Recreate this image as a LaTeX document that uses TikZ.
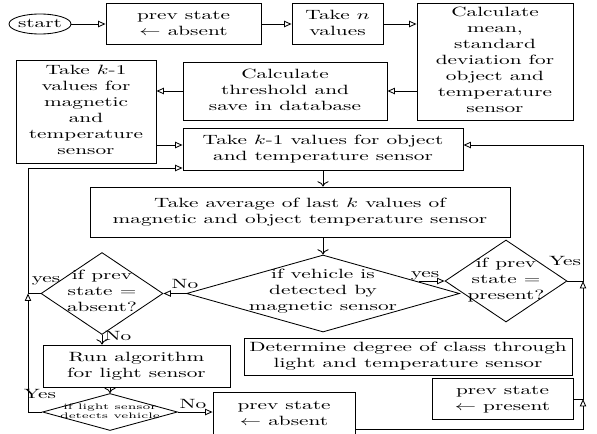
\documentclass[tikz,border=0pt]{standalone}
\usepackage{graphicx}
\usetikzlibrary{shapes.geometric,arrows.meta,calc}
\newcommand{\sqt}[1]{\scalebox{1}[0.63]{\begin{tabular}{@{}c@{}}#1\end{tabular}}}
\begin{document}
\begin{tikzpicture}[x=0.47pt,y=-0.47pt,
  box/.style 2 args={draw, rectangle, inner sep=0pt, minimum width=#1*0.47pt, minimum height=#2*0.47pt},
  dia/.style 2 args={draw, diamond, inner sep=0pt, minimum width=#1*0.47pt, minimum height=#2*0.47pt},
  ell/.style 2 args={draw, ellipse, inner sep=0pt, minimum width=#1*0.47pt, minimum height=#2*0.47pt},
  txt/.style={inner sep=0pt},
  lbl/.style={inner sep=0pt},
  arr/.style={-{Triangle[open,length=3.5pt,width=3pt]}},
  darr/.style={-{To[length=2.5pt]}},
  line width=0.4pt]
\clip (0,0) rectangle (597,433);
% nodes
\node[ell={62}{20}] (start) at (40,24) {};
\node[txt] (startT) at (start) {\sqt{start}};
\node[box={155}{41}] (prev1) at (183.5,24) {\sqt{prev state\\$\leftarrow$ absent}};
\node[box={91}{41}] (taken) at (337.5,24) {\sqt{Take $n$\\values}};
\node[box={156}{117}] (calc) at (495,61.5) {\sqt{Calculate\\mean,\\standard\\deviation for\\object and\\temperature\\sensor}};
\node[box={204}{58}] (thresh) at (285,91) {\sqt{Calculate\\threshold and\\save in database}};
\node[box={140}{103}] (magk) at (86,111.5) {\sqt{Take $k$-1\\values for\\magnetic\\and\\temperature\\sensor}};
\node[box={280}{42}] (objk) at (323,149) {\sqt{Take $k$-1 values for object\\and temperature sensor}};
\node[box={420}{50}] (avg) at (300,212) {\sqt{Take average of last $k$ values of\\magnetic and object temperature sensor}};
\node[dia={273}{77}] (vehicle) at (323,293.5) {};
\node[txt] (vehicleT) at (323,291) {\sqt{if vehicle is\\detected by\\magnetic sensor}};
\node[dia={122}{82}] (present) at (506,281) {};
\node[txt] (presentT) at (506,280) {\sqt{if prev\\state =\\present?}};
\node[dia={122}{82}] (absent) at (102,293.5) {};
\node[txt] (absentT) at (102,292) {\sqt{if prev\\state =\\absent?}};
\node[box={187}{42}] (run) at (136.5,366) {\sqt{Run algorithm\\for light sensor}};
\node[dia={135}{37}] (light) at (110,412) {};
\node[txt] (lightT) at (110,412) {\fontsize{6pt}{7.2pt}\selectfont\sqt{if light sensor\\detects vehicle}};
\node[box={328}{37}] (det) at (408,356.5) {\sqt{Determine degree of class through\\light and temperature sensor}};
\node[box={141}{41}] (prevpres) at (502.5,399) {\sqt{prev state\\$\leftarrow$ present}};
\node[box={142}{44}] (prevabs) at (284,414) {\sqt{prev state\\$\leftarrow$ absent}};
% helper coordinates
\coordinate (xl) at (28,0);
\coordinate (xr) at (583,0);
\coordinate (objkIn) at ($(objk.west)+(0,-4)$);
\coordinate (objkLo) at ($(objk.west)+(0,19)$);
\coordinate (objkR) at ($(objk.east)+(0,-4)$);
\coordinate (L1) at (absent.west -| xl);
\coordinate (R1) at (present.east -| xr);
\coordinate (R2) at (prevpres.east -| xr);
\coordinate (PA) at ($(prevabs.east)+(0,15)$);
\coordinate (vyes) at ($(vehicle.north)!0.7!(vehicle.east)$);
% connectors
\draw[arr] (start) -- (prev1);
\draw[arr] (prev1) -- (taken);
\draw[arr] (taken.east) -- (taken.east -| calc.west);
\draw[arr] (calc.west |- thresh.east) -- (thresh.east);
\draw[arr] (thresh.west) -- (thresh.west -| magk.east);
\draw[arr] (objkIn -| magk.east) -- (objkIn);
\draw[darr] (objk.south) -- (objk.south |- avg.north);
\draw[darr] (avg.south -| vehicle.north) -- (vehicle.north);
\draw[arr] (vehicle.west) -- (absent.east);
\draw[arr] (vyes |- present.west) -- (present.west);
\draw[arr] (present.east) -- (R1) |- (objkR);
\draw[arr] (prevpres.east) -- (R2) -- (R1);
\draw[arr] (PA) -| (R2);
\draw[arr] (absent.west) -- (L1) |- (objkLo);
\draw[arr] (light.west) -| (L1);
\draw[darr] (absent.south) -- (absent.south |- run.north);
\draw[darr] (run.south -| light.north) -- (light.north);
\draw[arr] (light.east) -- (light.east -| prevabs.west);
% labels
\node[lbl] (lNo1) at (185,285) {\sqt{No}};
\node[lbl] (lyes1) at (425,274) {\sqt{yes}};
\node[lbl] (lYes2) at (565,262) {\sqt{Yes}};
\node[lbl] (lyes3) at (46,279) {\sqt{yes}};
\node[lbl] (lNo2) at (118,337) {\sqt{No}};
\node[lbl] (lYes4) at (40,395) {\sqt{Yes}};
\node[lbl] (lNo3) at (193,405) {\sqt{No}};
\end{tikzpicture}
\end{document}
